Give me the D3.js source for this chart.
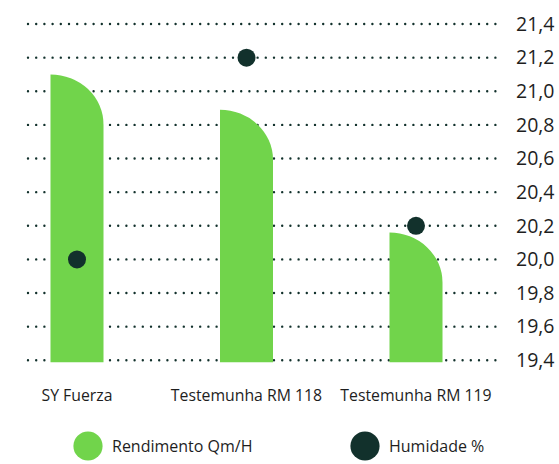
<!DOCTYPE html>
<html>
<head>
<meta charset="utf-8">
<script src="https://cdn.jsdelivr.net/npm/d3@7"></script>
<style>
    body { margin: 0; background: #fff; }
    text { font-family: "Open Sans", sans-serif; fill: #1e1e1e; }
</style>
</head>
<body>
<svg id="chart"></svg>
<script>
const categories = ['SY Fuerza', 'Testemunha RM 118', 'Testemunha RM 119'];
const rendimento = [21.10, 20.89, 20.16];
const humidade = [20.0, 21.2, 20.2];
const yTicks = [19.4, 19.6, 19.8, 20.0, 20.2, 20.4, 20.6, 20.8, 21.0, 21.2, 21.4];
const seriesNames = ['Rendimento Qm/H', 'Humidade %'];

const green = '#71d44b';
const dark = '#12312c';

const width = 559, height = 464;

const svg = d3.select('#chart')
    .attr('width', width)
    .attr('height', height);

const x = d3.scalePoint()
    .domain(categories)
    .range([77, 416]);

const y = d3.scaleLinear()
    .domain([19.4, 21.4])
    .range([360.3, 24]);

const barW = 53;
const ry = 50;

// dotted grid lines
svg.append('g')
    .selectAll('line')
    .data(yTicks)
    .enter()
    .append('line')
    .attr('x1', 28)
    .attr('x2', 502)
    .attr('y1', d => y(d))
    .attr('y2', d => y(d))
    .attr('stroke', dark)
    .attr('stroke-width', 2.4)
    .attr('stroke-linecap', 'round')
    .attr('stroke-dasharray', '0 8.2');

// Y axis on the right
const yAxis = svg.append('g')
    .attr('transform', 'translate(513,0)')
    .call(d3.axisRight(y).tickValues(yTicks).tickSize(0).tickPadding(3)
        .tickFormat(d => d3.format('.1f')(d).replace('.', ',')));
yAxis.select('.domain').remove();
yAxis.selectAll('text')
    .style('font-family', '"Open Sans", sans-serif')
    .style('font-size', '19.5px')
    .attr('fill', '#1e1e1e');

// bars with rounded top-right corner
const base = y(19.4) + 2;
svg.append('g')
    .selectAll('path')
    .data(rendimento)
    .enter()
    .append('path')
    .attr('fill', green)
    .attr('d', (d, i) => {
        const x0 = x(categories[i]) - barW / 2;
        const x1 = x0 + barW;
        const top = y(d);
        return `M${x0},${base}L${x0},${top}A${barW},${ry} 0 0 1 ${x1},${top + ry}L${x1},${base}Z`;
    });

// humidity dots
svg.append('g')
    .selectAll('circle')
    .data(humidade)
    .enter()
    .append('circle')
    .attr('cx', (d, i) => x(categories[i]))
    .attr('cy', d => y(d))
    .attr('r', 9)
    .attr('fill', dark);

// category labels
svg.append('g')
    .selectAll('text')
    .data(categories)
    .enter()
    .append('text')
    .attr('x', d => x(d))
    .attr('y', 401)
    .attr('text-anchor', 'middle')
    .style('font-size', '15.8px')
    .text(d => d);

// legend
const legend = svg.append('g')
    .selectAll('g')
    .data(seriesNames)
    .enter()
    .append('g')
    .attr('transform', (d, i) => `translate(${[88, 365][i]},446)`);

legend.append('circle')
    .attr('r', 14.6)
    .attr('fill', (d, i) => [green, dark][i]);

legend.append('text')
    .attr('x', 24)
    .attr('y', 5.5)
    .style('font-size', '16px')
    .text(d => d);
</script>
</body>
</html>
